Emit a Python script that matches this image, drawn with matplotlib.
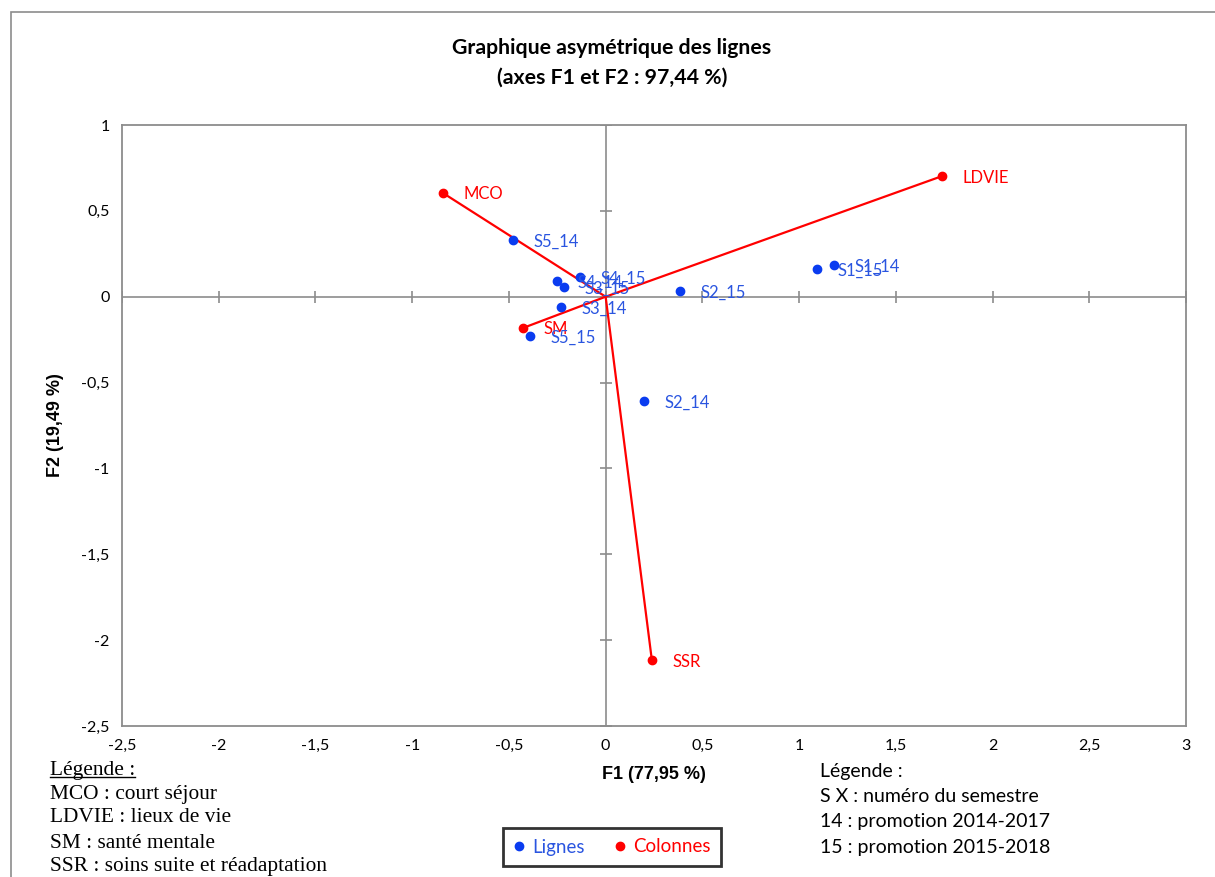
import matplotlib
matplotlib.use("Agg")
import matplotlib.pyplot as plt
from matplotlib.lines import Line2D
from matplotlib.patches import Rectangle

plt.rcParams["font.family"] = ["Lato", "DejaVu Sans"]

# rows (blue) and columns (red) of the CA map
row_labels = ["S5_14", "S4_14", "S3_15", "S4_15", "S3_14", "S5_15", "S2_15", "S2_14", "S1_15", "S1_14"]
row_f1 = [-0.479, -0.253, -0.216, -0.133, -0.231, -0.391, 0.384, 0.198, 1.090, 1.181]
row_f2 = [0.330, 0.091, 0.056, 0.115, -0.060, -0.229, 0.033, -0.608, 0.161, 0.185]

col_labels = ["MCO", "LDVIE", "SM", "SSR"]
col_f1 = [-0.841, 1.738, -0.427, 0.239]
col_f2 = [0.604, 0.702, -0.182, -2.117]

xticks = [-2.5, -2, -1.5, -1, -0.5, 0, 0.5, 1, 1.5, 2, 2.5, 3]
yticks = [-2.5, -2, -1.5, -1, -0.5, 0, 0.5, 1]

BLUE = "#0A3CF0"
BLUE_TXT = "#2A55E0"
RED = "#FF0000"
GRAY = "#8C8C8C"

def fr(v):
    return f"{v:g}".replace(".", ",")

fig = plt.figure(figsize=(12.15, 8.77), dpi=100)
fig.add_artist(Rectangle((11 / 1215, -0.1), 1.2, 1.1 - 12 / 877, transform=fig.transFigure,
                         fill=False, edgecolor=GRAY, lw=1.2))
ax = fig.add_axes([122 / 1215, 1 - 726 / 877, (1186 - 122) / 1215, (726 - 125) / 877])
ax.set_xlim(-2.5, 3)
ax.set_ylim(-2.5, 1)
for s in ax.spines.values():
    s.set_color(GRAY); s.set_linewidth(1.3)
ax.set_xticks(xticks); ax.set_xticklabels([fr(v) for v in xticks])
ax.set_yticks(yticks); ax.set_yticklabels([fr(v) for v in yticks])
ax.tick_params(length=0, labelsize=11.5, pad=9)

# axes through origin with crossing tick marks
ax.axhline(0, color=GRAY, lw=1.2, zorder=1)
ax.axvline(0, color=GRAY, lw=1.2, zorder=1)
ax.plot(xticks, [0] * len(xticks), ls="none", marker="|", ms=9, mew=1.2, color=GRAY, zorder=1)
ax.plot([0] * len(yticks), yticks, ls="none", marker="_", ms=9, mew=1.2, color=GRAY, zorder=1)

# column vectors
for x, y in zip(col_f1, col_f2):
    ax.plot([0, x], [0, y], color=RED, lw=1.6, zorder=2)
ax.plot(col_f1, col_f2, ls="none", marker="o", ms=6, color=RED, zorder=3, label="Colonnes")
ax.plot(row_f1, row_f2, ls="none", marker="o", ms=6, color=BLUE, zorder=3, label="Lignes")
for lab, x, y in zip(col_labels, col_f1, col_f2):
    ax.annotate(lab, (x, y), xytext=(15, -1), textcoords="offset points", va="center",
                fontsize=12, color=RED, zorder=4)
for lab, x, y in zip(row_labels, row_f1, row_f2):
    ax.annotate(lab, (x, y), xytext=(15, -1), textcoords="offset points", va="center",
                fontsize=12, color=BLUE_TXT, zorder=4)

ax.set_xlabel("F1 (77,95 %)", fontsize=13, fontweight="bold", family="Liberation Sans", labelpad=10)
ax.set_ylabel("F2 (19,49 %)", fontsize=13, fontweight="bold", family="Liberation Sans", labelpad=12)
fig.text(612 / 1215, 1 - 48 / 877, "Graphique asymétrique des lignes", ha="center", va="center",
         fontsize=15.3, fontweight="bold")
fig.text(612 / 1215, 1 - 78 / 877, "(axes F1 et F2 : 97,44 %)", ha="center", va="center",
         fontsize=15.3, fontweight="bold")

h, l = ax.get_legend_handles_labels()
leg = fig.legend(h[::-1], l[::-1], loc="center", bbox_to_anchor=(612 / 1215, 1 - 847 / 877),
                 ncol=2, fontsize=13.5, frameon=True, fancybox=False,
                 edgecolor="black", handlelength=0.6, handletextpad=0.4, columnspacing=1.6,
                 borderpad=0.55)
leg.get_frame().set_linewidth(2)
for t in leg.get_texts():
    t.set_color(BLUE_TXT if t.get_text() == "Lignes" else RED)

# left note (Times-like)
left_lines = ["Légende :", "MCO : court séjour", "LDVIE : lieux de vie", "SM : santé mentale",
              "SSR : soins suite et réadaptation"]
left_y = [770, 794, 818, 843, 866]
txts = []
for s, y in zip(left_lines, left_y):
    txts.append(fig.text(50 / 1215, 1 - y / 877, s, ha="left", va="center", fontsize=15.4,
                         family="Liberation Serif"))

right_lines = ["Légende :", "S X : numéro du semestre", "14 : promotion 2014-2017",
               "15 : promotion 2015-2018"]
right_y = [771, 797, 822, 848]
for s, y in zip(right_lines, right_y):
    fig.text(820 / 1215, 1 - y / 877, s, ha="left", va="center", fontsize=14)

fig.canvas.draw()
bb = txts[0].get_window_extent().transformed(fig.transFigure.inverted())
fig.add_artist(Line2D([bb.x0, bb.x1], [bb.y0 + 0.003, bb.y0 + 0.003], color="black", lw=1,
                      transform=fig.transFigure))

fig.savefig("out.png", dpi=100, facecolor="white")
